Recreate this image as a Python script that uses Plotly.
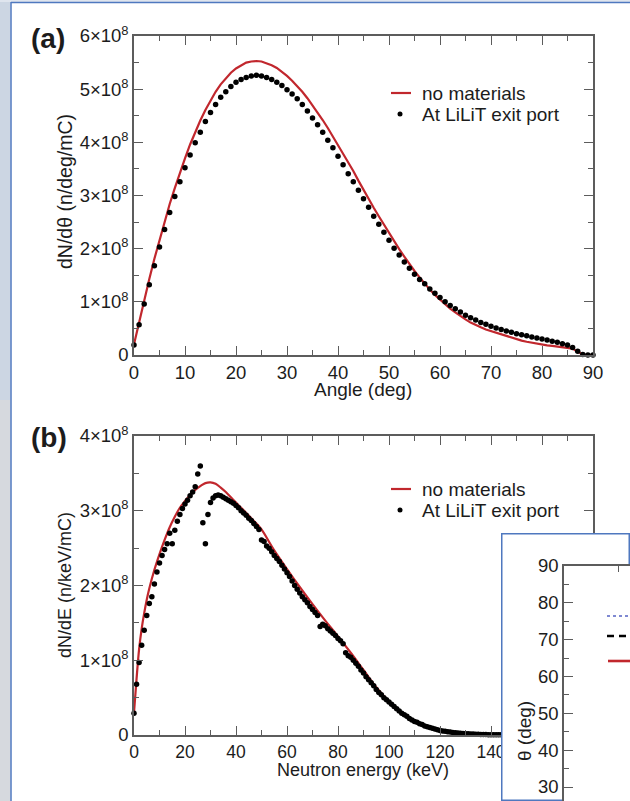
import plotly.graph_objects as go

W, H = 630, 801


def fx(px):
    return px / W


def fy(py):
    return 1 - py / H


# ---------------- data ----------------
# Panel (a): angular distribution (units of 1e8 n/deg/mC)
angle_deg = list(range(0, 91))
dndtheta_no_materials = [
    0.20, 0.62, 1.04, 1.43, 1.81, 2.17, 2.51, 2.84, 3.14, 3.43,
    3.70, 3.96, 4.19, 4.41, 4.61, 4.79, 4.95, 5.09, 5.21, 5.31,
    5.39, 5.45, 5.50, 5.52, 5.53, 5.52, 5.49, 5.45, 5.40, 5.33,
    5.25, 5.16, 5.06, 4.95, 4.83, 4.70, 4.56, 4.42, 4.27, 4.11,
    3.95, 3.79, 3.62, 3.46, 3.28, 3.10, 2.93, 2.77, 2.61, 2.45,
    2.29, 2.14, 1.99, 1.85, 1.71, 1.58, 1.46, 1.34, 1.23, 1.13,
    1.04, 0.95, 0.87, 0.80, 0.73, 0.67, 0.61, 0.56, 0.52, 0.48,
    0.45, 0.41, 0.38, 0.35, 0.32, 0.29, 0.27, 0.25, 0.23, 0.21,
    0.19, 0.18, 0.17, 0.16, 0.15, 0.14, 0.12, 0.06, 0.01, 0.00,
    0.00,
]
dndtheta_lilit = [
    0.19, 0.57, 0.96, 1.32, 1.68, 2.03, 2.36, 2.68, 2.98, 3.26,
    3.52, 3.76, 3.99, 4.19, 4.39, 4.56, 4.71, 4.85, 4.95, 5.05,
    5.13, 5.18, 5.22, 5.25, 5.26, 5.25, 5.22, 5.18, 5.13, 5.07,
    4.99, 4.91, 4.82, 4.71, 4.59, 4.46, 4.33, 4.19, 4.04, 3.90,
    3.74, 3.58, 3.41, 3.26, 3.10, 2.94, 2.78, 2.61, 2.46, 2.31,
    2.16, 2.01, 1.88, 1.75, 1.63, 1.52, 1.42, 1.34, 1.24, 1.16,
    1.08, 1.00, 0.93, 0.87, 0.81, 0.75, 0.70, 0.66, 0.61, 0.58,
    0.54, 0.51, 0.48, 0.45, 0.43, 0.40, 0.38, 0.36, 0.34, 0.32,
    0.30, 0.28, 0.26, 0.24, 0.21, 0.19, 0.14, 0.07, 0.01, 0.00,
    0.00,
]

# Panel (b): energy distribution (units of 1e8 n/keV/mC)
energy_red_kev = [0, 1, 2, 3, 4, 5, 6, 8, 10, 12, 14, 16, 18, 20, 22, 24, 26, 28,
                  30, 32, 34, 36, 38, 40, 42, 44, 46, 48, 50, 55, 60, 65, 70, 75,
                  80, 85, 90, 95, 100, 105, 110, 115, 120, 125, 130, 135, 140, 145]
dnde_no_materials = [0.30, 0.75, 1.15, 1.42, 1.63, 1.81, 1.96, 2.21, 2.42, 2.61,
                     2.78, 2.92, 3.04, 3.13, 3.21, 3.28, 3.33, 3.37, 3.38, 3.36,
                     3.31, 3.25, 3.18, 3.11, 3.04, 2.97, 2.90, 2.83, 2.75, 2.47,
                     2.22, 1.98, 1.75, 1.53, 1.32, 1.10, 0.87, 0.64, 0.45, 0.30,
                     0.19, 0.11, 0.06, 0.03, 0.015, 0.007, 0.003, 0.001]
energy_dots_kev = list(range(0, 146))
dnde_lilit = [
    0.29, 0.68, 0.97, 1.20, 1.40, 1.60, 1.76, 1.85, 2.02, 2.18,
    2.30, 2.40, 2.48, 2.56, 2.70, 2.56, 2.74, 2.86, 2.95, 3.03,
    3.09, 3.14, 3.20, 3.25, 3.32, 3.49, 3.60, 2.84, 2.56, 2.95,
    3.11, 3.17, 3.20, 3.21, 3.20, 3.18, 3.16, 3.14, 3.12, 3.10,
    3.07, 3.04, 3.00, 2.97, 2.94, 2.90, 2.87, 2.83, 2.79, 2.75,
    2.61, 2.59, 2.53, 2.50, 2.45, 2.40, 2.36, 2.32, 2.27, 2.22,
    2.17, 2.12, 2.06, 2.00, 1.95, 1.90, 1.85, 1.81, 1.77, 1.72,
    1.68, 1.64, 1.60, 1.45, 1.48, 1.46, 1.42, 1.39, 1.36, 1.33,
    1.29, 1.26, 1.22, 1.10, 1.06, 1.04, 1.00, 0.96, 0.92, 0.87,
    0.83, 0.78, 0.74, 0.70, 0.66, 0.61, 0.57, 0.54, 0.50, 0.47,
    0.44, 0.41, 0.38, 0.35, 0.32, 0.29, 0.27, 0.25, 0.22, 0.20,
    0.18, 0.17, 0.15, 0.14, 0.12, 0.11, 0.10, 0.09, 0.08, 0.07,
    0.06, 0.055, 0.05, 0.045, 0.04, 0.035, 0.03, 0.027, 0.024, 0.021,
    0.018, 0.016, 0.014, 0.012, 0.010, 0.009, 0.008, 0.007, 0.006, 0.005,
    0.004, 0.003, 0.003, 0.002, 0.002, 0.001,
]

legend_labels = ["no materials", "At LiLiT exit port"]
angle_ticks = [0, 10, 20, 30, 40, 50, 60, 70, 80, 90]
yticks_a = [0, 1, 2, 3, 4, 5, 6]
energy_ticks = [0, 20, 40, 60, 80, 100, 120, 140, 160, 180]
yticks_b = [0, 1, 2, 3, 4]
inset_theta_ticks = [30, 40, 50, 60, 70, 80, 90]

SCALE = 1e8
RED = "#c1272d"
AX = "#5c5c5c"
TXT = "#1c1c1c"
BLUE = "#4f78bf"
FONT = "Liberation Sans, Arial, Helvetica, sans-serif"


def sci(v):
    return "0" if v == 0 else f"{v}×10<sup>8</sup>"


fig = go.Figure()

# panel (a)
fig.add_trace(go.Scatter(x=angle_deg, y=[v * SCALE for v in dndtheta_no_materials],
                         mode="lines", line=dict(color=RED, width=2.2),
                         xaxis="x", yaxis="y", showlegend=False, hoverinfo="skip"))
fig.add_trace(go.Scatter(x=angle_deg, y=[v * SCALE for v in dndtheta_lilit],
                         mode="markers", marker=dict(color="black", size=5.5),
                         cliponaxis=False, xaxis="x", yaxis="y", showlegend=False))
# panel (b)
fig.add_trace(go.Scatter(x=energy_red_kev, y=[v * SCALE for v in dnde_no_materials],
                         mode="lines", line=dict(color=RED, width=2.2, shape="spline"),
                         xaxis="x2", yaxis="y2", showlegend=False, hoverinfo="skip"))
fig.add_trace(go.Scatter(x=energy_dots_kev, y=[v * SCALE for v in dnde_lilit],
                         mode="markers", marker=dict(color="black", size=5.5),
                         cliponaxis=False, xaxis="x2", yaxis="y2", showlegend=False))
# inset white box (covers panel b)
fig.add_trace(go.Scatter(x=[0, 1, 1, 0, 0], y=[0, 0, 1, 1, 0], mode="lines",
                         fill="toself", fillcolor="white",
                         line=dict(color=BLUE, width=3),
                         xaxis="x3", yaxis="y3", showlegend=False, hoverinfo="skip"))
# inset axes (content outside view)
fig.add_trace(go.Scatter(x=[], y=[], xaxis="x4", yaxis="y4", showlegend=False))


def axis(size, **kw):
    d = dict(showline=True, linecolor=AX, linewidth=1.5, mirror="ticks",
             ticks="inside", ticklen=9, tickwidth=1.4, tickcolor=AX,
             showgrid=False, zeroline=False, automargin=False,
             tickfont=dict(family=FONT, size=size, color=TXT),
             minor=dict(ticks="inside", ticklen=5, tickwidth=1.2, tickcolor=AX,
                        showgrid=False))
    d.update(kw)
    return d


layout = dict(
    width=W, height=H, autosize=False,
    margin=dict(l=0, r=0, t=0, b=0, pad=0, autoexpand=False),
    paper_bgcolor="white", plot_bgcolor="white",
    showlegend=False,
    font=dict(family=FONT, color=TXT),
)

xa = axis(18.5, domain=[fx(134), fx(593)], range=[0, 90], anchor="y",
          tickmode="array", tickvals=angle_ticks)
xa["minor"]["tickvals"] = [t + 5 for t in angle_ticks[:-1]]
ya = axis(18.5, domain=[fy(355), fy(36)], range=[0, 6 * SCALE], anchor="x",
          tickmode="array", tickvals=[t * SCALE for t in yticks_a],
          ticktext=[sci(t) for t in yticks_a])
ya["minor"]["tickvals"] = [(t + 0.5) * SCALE for t in yticks_a[:-1]]

xb = axis(17.5, domain=[fx(134), fx(593)], range=[0, 180], anchor="y2",
          tickmode="array", tickvals=energy_ticks)
xb["minor"]["tickvals"] = [t + 10 for t in energy_ticks[:-1]]
yb = axis(18.5, domain=[fy(735), fy(436)], range=[0, 4 * SCALE], anchor="x2",
          tickmode="array", tickvals=[t * SCALE for t in yticks_b],
          ticktext=[sci(t) for t in yticks_b])
yb["minor"]["tickvals"] = [(t + 0.5) * SCALE for t in yticks_b[:-1]]

layout["xaxis"] = xa
layout["yaxis"] = ya
layout["xaxis2"] = xb
layout["yaxis2"] = yb
layout["xaxis3"] = dict(domain=[fx(501), 1], range=[0, 1], visible=False,
                        anchor="y3", fixedrange=True, automargin=False)
layout["yaxis3"] = dict(domain=[0, fy(533)], range=[0, 1], visible=False,
                        anchor="x3", fixedrange=True, automargin=False)

x4 = axis(18.5, domain=[fx(564), 1], range=[0, 61], anchor="y4", side="top",
          mirror=False, showticklabels=False, tickmode="array", tickvals=[50],
          ticklen=6)
x4["minor"] = dict(ticks="")
y4 = axis(18.5, domain=[0, fy(566)], range=[26.2, 90], anchor="x4", mirror=False,
          tickmode="array", tickvals=inset_theta_ticks)
y4["minor"]["tickvals"] = [t + 5 for t in inset_theta_ticks[:-1]]
layout["xaxis4"] = x4
layout["yaxis4"] = y4

fig.update_layout(**layout)


def ann(text, x, y, size, angle=0, xanchor="center", bold=False):
    fig.add_annotation(text=f"<b>{text}</b>" if bold else text,
                       x=fx(x), y=fy(y), xref="paper", yref="paper",
                       xanchor=xanchor, yanchor="middle", showarrow=False,
                       textangle=angle,
                       font=dict(family=FONT, size=size, color=TXT))


ann("(a)", 48, 38, 28, bold=True)
ann("(b)", 49, 437, 28, bold=True)
ann("dN/dθ (n/deg/mC)", 65, 192, 19.5, angle=-90)
ann("Angle (deg)", 363, 389, 19)
ann("dN/dE (n/keV/mC)", 65, 585, 18, angle=-90)
ann("Neutron energy (keV)", 363, 770, 18)
ann("θ (deg)", 524, 731, 19, angle=-90)

for ly in (93, 489):
    ann(legend_labels[0], 420, ly, 19, xanchor="left")
    ann(legend_labels[1], 420, ly + 21, 19, xanchor="left")

shapes = []


def pshape(**kw):
    d = dict(xref="paper", yref="paper")
    d.update(kw)
    shapes.append(d)


# slide background pieces
pshape(type="rect", x0=0, x1=fx(10.5), y0=fy(801), y1=fy(400), fillcolor="#d6d9de",
       line=dict(width=0), layer="below")
pshape(type="rect", x0=0, x1=fx(10.5), y0=fy(400), y1=1, fillcolor="#ccd6e3",
       line=dict(width=0), layer="below")
pshape(type="rect", x0=0, x1=1, y0=fy(2), y1=1, fillcolor="#dfe5ee",
       line=dict(width=0), layer="below")
pshape(type="line", x0=fx(11), x1=fx(11), y0=0, y1=fy(2),
       line=dict(color=BLUE, width=1.5), layer="below")
pshape(type="line", x0=fx(11), x1=1, y0=fy(2.5), y1=fy(2.5),
       line=dict(color=BLUE, width=1.5), layer="below")

# legend samples (panels a and b)
for ly in (93, 489):
    pshape(type="line", x0=fx(391), x1=fx(411), y0=fy(ly), y1=fy(ly),
           line=dict(color=RED, width=2.2), layer="above")
    pshape(type="circle", x0=fx(397.5), x1=fx(402.5), y0=fy(ly + 21 + 2.5),
           y1=fy(ly + 21 - 2.5), fillcolor="black", line=dict(width=0), layer="above")

# inset legend samples
pshape(type="line", x0=fx(607), x1=1, y0=fy(616), y1=fy(616),
       line=dict(color="#5563c4", width=1.6, dash="dot"), layer="above")
pshape(type="line", x0=fx(607), x1=1, y0=fy(636), y1=fy(636),
       line=dict(color="black", width=2.4, dash="7px,5px"), layer="above")
pshape(type="line", x0=fx(608), x1=1, y0=fy(661), y1=fy(661),
       line=dict(color=RED, width=2.6), layer="above")

fig.update_layout(shapes=shapes)

post = ("document.documentElement.style.margin='0';"
        "document.body.style.margin='0';"
        "document.documentElement.style.overflow='hidden';"
        "document.body.style.overflow='hidden';")

fig.write_html("out.html", post_script=post, config={"displayModeBar": False})
